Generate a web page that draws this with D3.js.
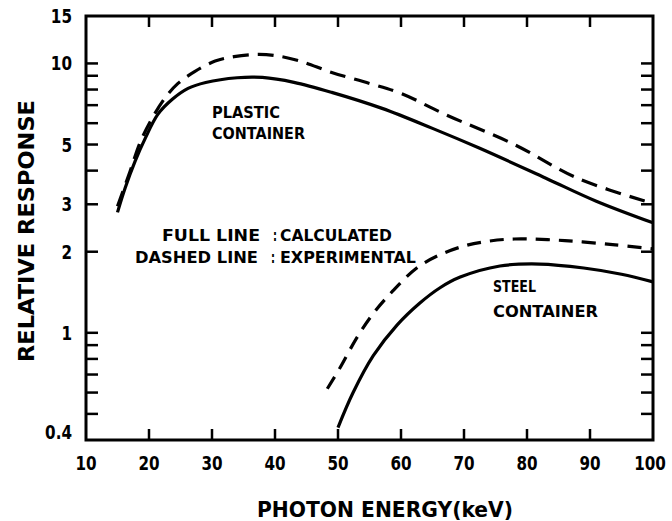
<!DOCTYPE html>
<html>
<head>
<meta charset="utf-8">
<script src="https://cdn.jsdelivr.net/npm/d3@7"></script>
<style>
  body { margin: 0; background: #fff; }
  text { font-family: "DejaVu Sans", "Liberation Sans", sans-serif; font-weight: bold; fill: #000; }
</style>
</head>
<body>
<div id="chart"></div>
<script>
// photon energy (keV) and relative response
var plasticCalcE = [15, 16.2, 17.8, 19.4, 21.4, 23.7, 26.2, 29, 34, 38, 43, 49, 57, 65, 72.5, 83, 91, 100];
var plasticCalcR = [2.8, 3.44, 4.34, 5.27, 6.47, 7.36, 8.08, 8.5, 8.85, 8.87, 8.51, 7.81, 6.81, 5.74, 4.84, 3.75, 3.08, 2.56];

var plasticExpE = [15, 17, 18.6, 20.5, 22.5, 24.6, 27.3, 30.5, 33.5, 37, 40, 44, 49, 55, 60, 67, 78, 88, 100];
var plasticExpR = [2.95, 3.98, 5.1, 6.26, 7.42, 8.43, 9.34, 10.2, 10.6, 10.8, 10.7, 10.2, 9.26, 8.43, 7.74, 6.47, 5.0, 3.75, 3.02];

var steelCalcE = [50, 52.4, 55.6, 59.4, 63, 66.2, 69.4, 75.7, 82, 89, 95, 100];
var steelCalcR = [0.445, 0.6, 0.822, 1.07, 1.29, 1.47, 1.61, 1.77, 1.8, 1.74, 1.65, 1.545];

var steelExpE = [48.3, 50.3, 53, 55.6, 58.7, 62.5, 66, 70, 74, 78, 86, 94, 100];
var steelExpR = [0.62, 0.74, 0.96, 1.18, 1.43, 1.74, 1.94, 2.1, 2.19, 2.23, 2.2, 2.12, 2.05];

var xTicks = [10, 20, 30, 40, 50, 60, 70, 80, 90, 100];
var yLabels = [15, 10, 5, 3, 2, 1, 0.4];
var yMinor = [0.5, 0.6, 0.7, 0.8, 0.9, 1, 2, 3, 4, 5, 6, 7, 8, 9, 10];

var width = 672, height = 521;
var plotL = 86, plotR = 653, plotT = 16, plotB = 440;

var x = d3.scaleLinear().domain([10, 100]).range([plotL, plotR]);
var y = d3.scaleLog().domain([0.4, 15]).range([plotB, plotT]);

var svg = d3.select("#chart")
    .append("svg")
    .attr("width", width)
    .attr("height", height);

svg.append("rect")
    .attr("width", width)
    .attr("height", height)
    .style("fill", "#fff");

// frame
svg.append("rect")
    .attr("x", plotL)
    .attr("y", plotT)
    .attr("width", plotR - plotL)
    .attr("height", plotB - plotT)
    .style("fill", "none")
    .style("stroke", "#000")
    .style("stroke-width", 3);

// inward ticks on all four sides
svg.append("g").selectAll("line")
    .data(xTicks.slice(1, -1))
    .enter().append("line")
    .attr("x1", function(d){ return x(d); })
    .attr("x2", function(d){ return x(d); })
    .attr("y1", plotB)
    .attr("y2", plotB - 11)
    .style("stroke", "#000")
    .style("stroke-width", 2.5);

svg.append("g").selectAll("line")
    .data(xTicks.slice(1, -1))
    .enter().append("line")
    .attr("x1", function(d){ return x(d); })
    .attr("x2", function(d){ return x(d); })
    .attr("y1", plotT)
    .attr("y2", plotT + 11)
    .style("stroke", "#000")
    .style("stroke-width", 2.5);

svg.append("g").selectAll("line")
    .data(yMinor)
    .enter().append("line")
    .attr("x1", plotL)
    .attr("x2", plotL + 12)
    .attr("y1", function(d){ return y(d); })
    .attr("y2", function(d){ return y(d); })
    .style("stroke", "#000")
    .style("stroke-width", 2.5);

svg.append("g").selectAll("line")
    .data(yMinor)
    .enter().append("line")
    .attr("x1", plotR)
    .attr("x2", plotR - 12)
    .attr("y1", function(d){ return y(d); })
    .attr("y2", function(d){ return y(d); })
    .style("stroke", "#000")
    .style("stroke-width", 2.5);

// tick labels, squeezed sideways to look condensed like the scan
svg.append("g").selectAll("text")
    .data(xTicks)
    .enter().append("text")
    .attr("transform", function(d){ return "translate(" + (d == 100 ? x(d) - 3 : x(d)) + ",470) scale(0.8,1)"; })
    .attr("text-anchor", "middle")
    .style("font-size", "19px")
    .text(function(d){ return d; });

svg.append("g").selectAll("text")
    .data(yLabels)
    .enter().append("text")
    .attr("transform", function(d){ return "translate(72," + (y(d) + (d == 0.4 ? -1 : 7)) + ") scale(0.8,1)"; })
    .attr("text-anchor", "end")
    .style("font-size", "19px")
    .text(function(d){ return d; });

// axis titles
svg.append("text")
    .attr("x", 257)
    .attr("y", 517)
    .attr("textLength", 256)
    .attr("lengthAdjust", "spacingAndGlyphs")
    .style("font-size", "21px")
    .text("PHOTON  ENERGY(keV)");

svg.append("text")
    .attr("transform", "translate(34,362) rotate(-90)")
    .attr("textLength", 262)
    .attr("lengthAdjust", "spacingAndGlyphs")
    .style("font-size", "22px")
    .text("RELATIVE RESPONSE");

// curves
var line = d3.line()
    .x(function(d){ return x(d[0]); })
    .y(function(d){ return y(d[1]); })
    .curve(d3.curveCatmullRom);

var curves = [
  {e: plasticCalcE, r: plasticCalcR, dash: null},
  {e: plasticExpE, r: plasticExpR, dash: "16,9"},
  {e: steelCalcE, r: steelCalcR, dash: null},
  {e: steelExpE, r: steelExpR, dash: "14,9"}
];

svg.append("g").selectAll("path")
    .data(curves)
    .enter().append("path")
    .attr("d", function(c){ return line(d3.zip(c.e, c.r)); })
    .style("fill", "none")
    .style("stroke", "#000")
    .style("stroke-width", 3.2)
    .style("stroke-dasharray", function(c){ return c.dash; });

// annotations
var notes = [
  ["PLASTIC", 212, 118, 68],
  ["CONTAINER", 212, 139, 93],
  ["FULL LINE", 162, 241, 98],
  [":", 273, 241, 4],
  ["CALCULATED", 280, 241, 112],
  ["DASHED LINE", 135, 263, 123],
  [":", 271, 263, 4],
  ["EXPERIMENTAL", 280, 263, 136],
  ["STEEL", 493, 292, 43],
  ["CONTAINER", 493, 317, 105]
];

svg.append("g").selectAll("text")
    .data(notes)
    .enter().append("text")
    .attr("x", function(d){ return d[1]; })
    .attr("y", function(d){ return d[2]; })
    .attr("textLength", function(d){ return d[3]; })
    .attr("lengthAdjust", "spacingAndGlyphs")
    .style("font-size", "16.5px")
    .text(function(d){ return d[0]; });
</script>
</body>
</html>
